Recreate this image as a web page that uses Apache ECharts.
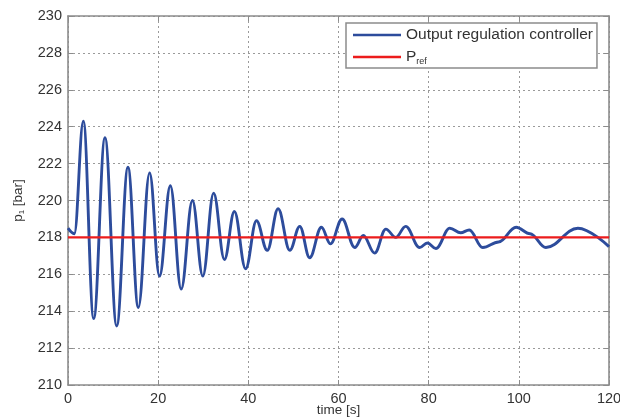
<!DOCTYPE html>
<html>
<head>
<meta charset="utf-8">
<script src="https://cdn.jsdelivr.net/npm/echarts@6/dist/echarts.min.js"></script>
<style>
  html, body { margin: 0; padding: 0; background: #fff; }
  #chart { width: 620px; height: 419px; }
</style>
</head>
<body>
<div id="chart"></div>
<script>
// Turning points of the regulated pressure response (time in s, pressure in bar)
const times = [0, 1.4, 3.4, 5.7, 8.2, 10.8, 13.3, 15.6, 18.1, 20.3, 22.7, 25.1, 27.6, 29.9,
  32.3, 34.7, 36.9, 39.4, 41.8, 44.2, 46.6, 49.2, 51.4, 53.6, 56.2, 58.2, 60.8, 63.6,
  65.5, 68.0, 70.5, 72.7, 74.9, 78.0, 79.7, 81.6, 84.7, 87.1, 89.0, 92.0, 95.5, 99.4,
  102.5, 106.0, 113.1, 120];
const pressure = [218.5, 218.2, 224.3, 213.6, 223.4, 213.2, 221.8, 214.2, 221.5, 215.9, 220.8, 215.2, 220.0, 215.9,
  220.4, 216.8, 219.4, 216.3, 218.9, 217.3, 219.55, 217.3, 218.6, 216.9, 218.55, 217.65, 219.0, 217.45,
  218.1, 217.15, 218.45, 218.0, 218.6, 217.45, 217.7, 217.4, 218.5, 218.25, 218.4, 217.45, 217.75, 218.55,
  218.2, 217.45, 218.5, 217.5];

// Reference pressure
const refTimes = [0, 120];
const refPressure = [218, 218];

const seriesNames = ['Output regulation controller', 'Pref'];
const xTicks = { min: 0, max: 120, step: 20 };
const yTicks = { min: 210, max: 230, step: 2 };

const FONT = 'Liberation Sans, Arial, Helvetica, sans-serif';
const FRAME = '#8c8c8c';
const GRID = '#9a9a9a';
const BLUE = '#2d4c9c';
const RED = '#ec1c1c';

function pairs(xs, ys) { return xs.map((x, i) => [x, ys[i]]); }

const chart = echarts.init(document.getElementById('chart'), null, { renderer: 'canvas' });

const tickStyle = { show: true, inside: true, length: 5, lineStyle: { color: FRAME, width: 1 } };
const lineStyle = { show: true, onZero: false, lineStyle: { color: FRAME, width: 1.6 } };

chart.setOption({
  animation: false,
  backgroundColor: '#ffffff',
  grid: { left: 68, right: 11, top: 16, bottom: 34, containLabel: false, outerBoundsMode: 'none' },
  legend: {
    data: [
      { name: seriesNames[0], icon: 'rect', itemStyle: { color: BLUE } },
      { name: seriesNames[1], icon: 'rect', itemStyle: { color: RED } }
    ],
    orient: 'vertical',
    left: 346,
    top: 23,
    padding: [4, 4, 2, 7],
    itemGap: 6,
    itemWidth: 48,
    itemHeight: 2.4,
    backgroundColor: '#ffffff',
    borderColor: FRAME,
    borderWidth: 1.5,
    borderRadius: 0,
    textStyle: {
      fontFamily: FONT, fontSize: 15.5, color: '#333', lineHeight: 14,
      rich: {
        m: { fontFamily: FONT, fontSize: 15.5, color: '#333' },
        s: { fontFamily: FONT, fontSize: 9, color: '#333', padding: [9, 0, 0, 0] }
      }
    },
    formatter: name => name === 'Pref' ? '{m|P}{s|ref}' : name
  },
  xAxis: [{
    type: 'value',
    min: xTicks.min, max: xTicks.max, interval: xTicks.step,
    name: 'time [s]',
    nameLocation: 'middle',
    nameGap: 18,
    nameMoveOverlap: false,
    nameTextStyle: { fontFamily: FONT, fontSize: 13.5, color: '#333' },
    axisLine: lineStyle,
    axisTick: tickStyle,
    axisLabel: { fontFamily: FONT, fontSize: 14.5, color: '#333', margin: 6 },
    splitLine: { show: true, lineStyle: { color: GRID, type: [2, 3], width: 1 } }
  }, {
    type: 'value', position: 'top',
    min: xTicks.min, max: xTicks.max, interval: xTicks.step,
    axisLine: lineStyle, axisTick: tickStyle,
    axisLabel: { show: false }, splitLine: { show: false }
  }],
  yAxis: [{
    type: 'value',
    min: yTicks.min, max: yTicks.max, interval: yTicks.step,
    name: '{n|p}{s|1}{n| [bar]}',
    nameLocation: 'middle',
    nameGap: 42,
    nameMoveOverlap: false,
    nameTextStyle: {
      rich: {
        n: { fontFamily: FONT, fontSize: 13.5, color: '#333' },
        s: { fontFamily: FONT, fontSize: 8, color: '#333', padding: [7, 0, 0, 0] }
      }
    },
    axisLine: lineStyle,
    axisTick: tickStyle,
    axisLabel: { fontFamily: FONT, fontSize: 14.5, color: '#333', margin: 6 },
    splitLine: { show: true, lineStyle: { color: GRID, type: [2, 3], width: 1 } }
  }, {
    type: 'value', position: 'right',
    min: yTicks.min, max: yTicks.max, interval: yTicks.step,
    axisLine: lineStyle, axisTick: tickStyle,
    axisLabel: { show: false }, splitLine: { show: false }
  }],
  series: [{
    name: seriesNames[0],
    type: 'line',
    data: pairs(times, pressure),
    smooth: 0.38,
    smoothMonotone: 'x',
    symbol: 'none',
    z: 3,
    lineStyle: { color: BLUE, width: 2.9 },
    itemStyle: { color: BLUE }
  }, {
    name: seriesNames[1],
    type: 'line',
    data: pairs(refTimes, refPressure),
    symbol: 'none',
    z: 4,
    lineStyle: { color: RED, width: 2.2 },
    itemStyle: { color: RED }
  }]
});
</script>
</body>
</html>
